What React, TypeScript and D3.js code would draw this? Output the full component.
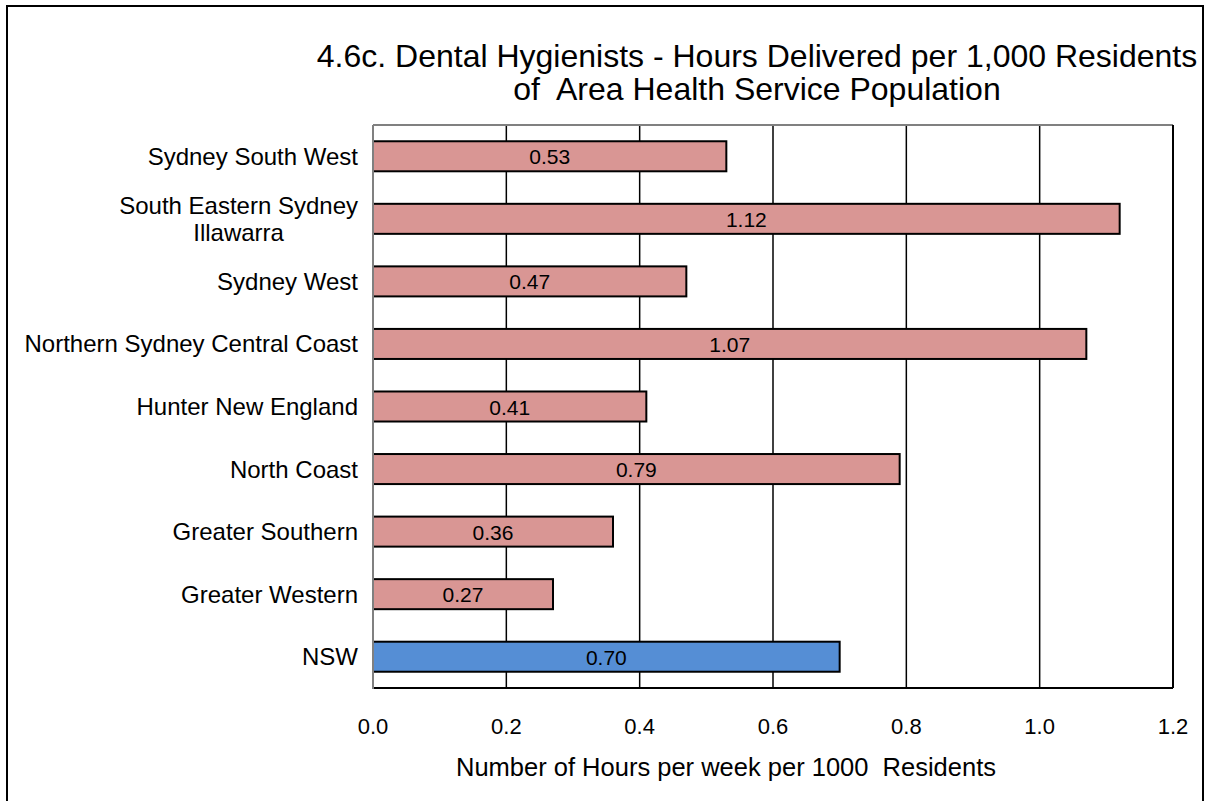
import React, { useEffect, useRef } from 'react';
import * as d3 from 'd3';

const categories = [
  'Sydney South West',
  'South Eastern Sydney\nIllawarra',
  'Sydney West',
  'Northern Sydney Central Coast',
  'Hunter New England',
  'North Coast',
  'Greater Southern',
  'Greater Western',
  'NSW',
];
const values = [0.53, 1.12, 0.47, 1.07, 0.41, 0.79, 0.36, 0.27, 0.70];
const xTicks = [0, 0.2, 0.4, 0.6, 0.8, 1.0, 1.2];
const titleLines = [
  '4.6c. Dental Hygienists - Hours Delivered per 1,000 Residents',
  'of  Area Health Service Population',
];
const xLabel = 'Number of Hours per week per 1000  Residents';

const FONT = "'Liberation Sans', Arial, sans-serif";

export default function App() {
  const svgRef = useRef<SVGSVGElement>(null);

  useEffect(() => {
    if (!svgRef.current) return;
    const svg = d3.select(svgRef.current);
    svg.selectAll('*').remove();

    const plot = { left: 373, right: 1173, top: 125, bottom: 688 };

    svg.append('rect')
      .attr('x', 7).attr('y', 6).attr('width', 1196).attr('height', 800)
      .attr('fill', 'white').attr('stroke', '#000').attr('stroke-width', 2);

    const x = d3.scaleLinear().domain([0, 1.2]).range([plot.left, plot.right]);
    const y = d3.scaleBand().domain(categories).range([plot.top, plot.bottom]).paddingInner(0.52).paddingOuter(0.26);

    // title
    svg.append('g').selectAll('text')
      .data(titleLines)
      .enter().append('text')
      .attr('x', 757)
      .attr('y', (_, i) => 67 + i * 33)
      .attr('text-anchor', 'middle')
      .style('font-family', FONT)
      .style('font-size', '32px')
      .style('white-space', 'pre')
      .text(d => d);

    // gridlines
    svg.append('g').selectAll('line')
      .data(xTicks.slice(1, -1))
      .enter().append('line')
      .attr('x1', d => x(d)).attr('x2', d => x(d))
      .attr('y1', plot.top).attr('y2', plot.bottom)
      .attr('stroke', '#000').attr('stroke-width', 1.5);

    // plot frame: top/left grey, right/bottom black
    svg.append('line').attr('x1', plot.left).attr('x2', plot.right).attr('y1', plot.top).attr('y2', plot.top)
      .attr('stroke', '#808080').attr('stroke-width', 2);
    svg.append('line').attr('x1', plot.right).attr('x2', plot.right).attr('y1', plot.top).attr('y2', plot.bottom)
      .attr('stroke', '#000').attr('stroke-width', 2);
    svg.append('line').attr('x1', plot.left).attr('x2', plot.right).attr('y1', plot.bottom).attr('y2', plot.bottom)
      .attr('stroke', '#000').attr('stroke-width', 2);

    // bars
    const rows = categories.map((c, i) => ({ c, v: values[i] }));
    svg.append('g').selectAll('rect')
      .data(rows)
      .enter().append('rect')
      .attr('x', x(0))
      .attr('y', d => y(d.c)!)
      .attr('width', d => x(d.v) - x(0))
      .attr('height', y.bandwidth())
      .attr('fill', d => (d.c === 'NSW' ? '#558ED5' : '#D99694'))
      .attr('stroke', '#000').attr('stroke-width', 2);

    svg.append('line').attr('x1', plot.left).attr('x2', plot.left).attr('y1', plot.top).attr('y2', plot.bottom + 1)
      .attr('stroke', '#808080').attr('stroke-width', 2);

    // value labels
    svg.append('g').selectAll('text')
      .data(rows)
      .enter().append('text')
      .attr('x', d => (x(0) + x(d.v)) / 2)
      .attr('y', d => y(d.c)! + y.bandwidth() / 2 + 8)
      .attr('text-anchor', 'middle')
      .style('font-family', FONT)
      .style('font-size', '21px')
      .text(d => d.v.toFixed(2));

    // category labels
    const catG = svg.append('g');
    categories.forEach(c => {
      const lines = c.split('\n');
      const cy = y(c)! + y.bandwidth() / 2;
      const t = catG.append('text')
        .style('font-family', FONT)
        .style('font-size', '24px')
        .attr('text-anchor', 'middle');
      lines.forEach((l, i) => {
        t.append('tspan')
          .attr('y', cy + 8.5 + (i - (lines.length - 1) / 2) * 27)
          .text(l);
      });
      const widths = t.selectAll<SVGTSpanElement, unknown>('tspan').nodes().map(n => n.getComputedTextLength());
      const w = Math.max(...widths);
      t.selectAll('tspan').attr('x', 358 - w / 2);
    });

    // x tick labels
    svg.append('g').selectAll('text')
      .data(xTicks)
      .enter().append('text')
      .attr('x', d => x(d))
      .attr('y', 734)
      .attr('text-anchor', 'middle')
      .style('font-family', FONT)
      .style('font-size', '22px')
      .text(d => d.toFixed(1));

    svg.append('text')
      .attr('x', 726).attr('y', 776)
      .attr('text-anchor', 'middle')
      .style('font-family', FONT)
      .style('font-size', '25.5px')
      .style('white-space', 'pre')
      .text(xLabel);
  }, []);

  return (
    <svg ref={svgRef} width={1208} height={801} style={{ position: 'absolute', left: 0, top: 0 }} />
  );
}
